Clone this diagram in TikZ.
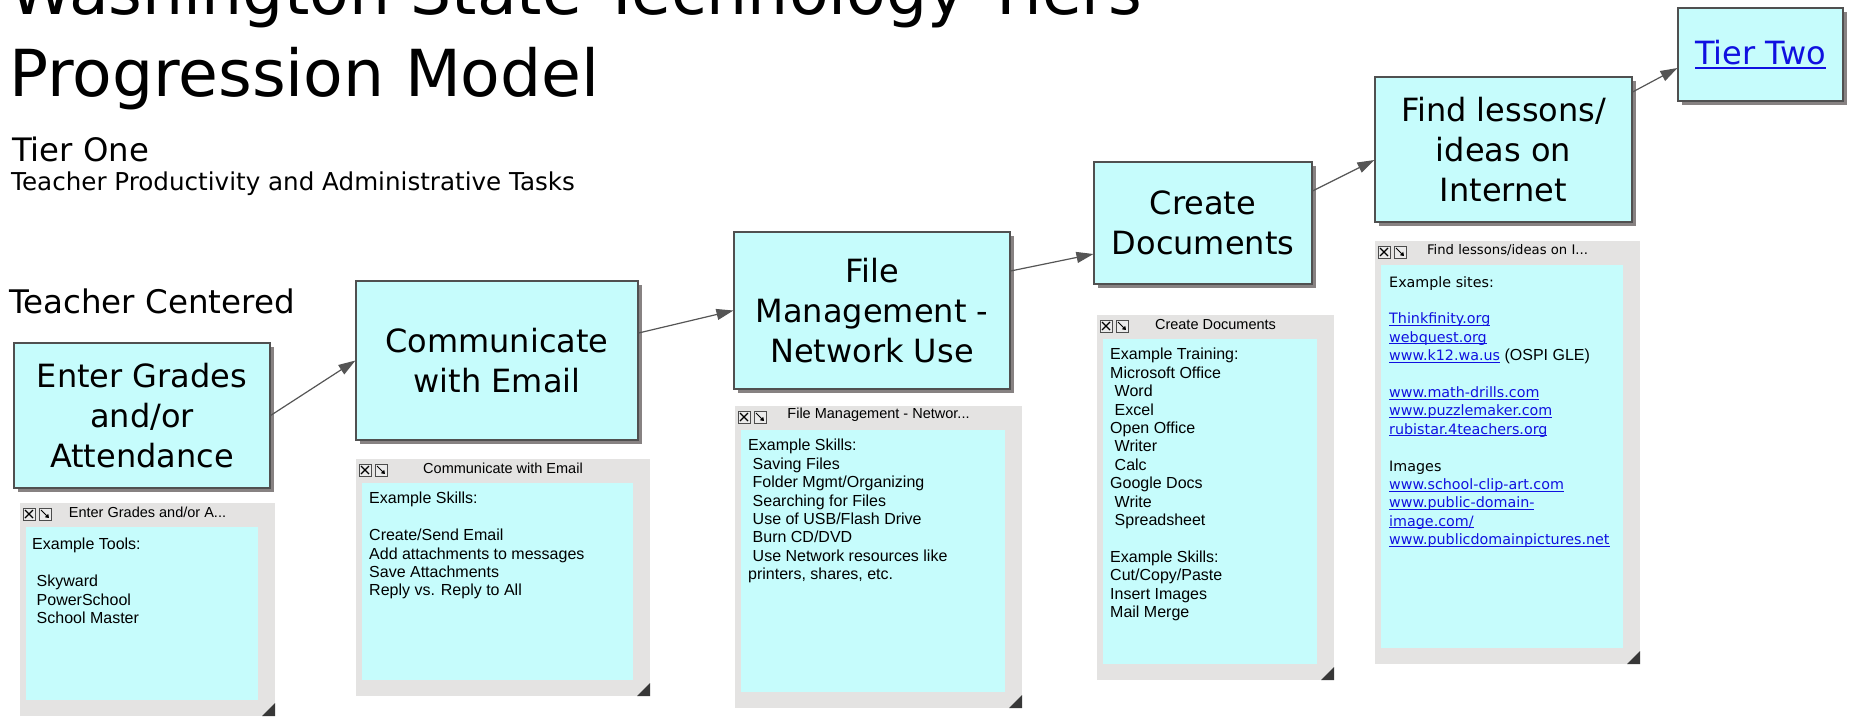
\documentclass[tikz,border=0pt]{standalone}
\usepackage{fontspec}
\usetikzlibrary{arrows.meta,shadows,calc}
\newfontfamily\dvs{DejaVu Sans}
\newfontfamily\lib{Liberation Sans}
\definecolor{boxcyan}{RGB}{198,252,252}
\definecolor{boxline}{RGB}{80,80,80}
\definecolor{shadowgray}{RGB}{135,130,130}
\definecolor{popgray}{RGB}{228,227,226}
\definecolor{linkblue}{RGB}{16,16,224}
\definecolor{arrowgray}{RGB}{85,85,85}
\definecolor{gripgray}{RGB}{55,55,55}
\newcommand\lnk[1]{{\color{linkblue}\setbox0\hbox{#1}\rlap{\rule[-2.2pt]{\wd0}{1pt}}\box0}}
\newcommand\biglnk[1]{{\color{linkblue}\setbox0\hbox{#1}\rlap{\rule[-4.5pt]{\wd0}{2pt}}\box0}}
\newcommand\ind{\hspace*{4.5pt}}
\newcommand\mypopup[6]{%
  \fill[popgray] (#2,#3) rectangle (#4,#5);
  \fill[boxcyan] ({#2+6},{#3+24}) rectangle ({#4-17},{#5-16});
  \fill[gripgray] (#4,{#5-13}) -- (#4,#5) -- ({#4-13},#5) -- cycle;
  \node[iconbox] (#1x) at ({#2+9},{#3+11}) {};
  \draw[iconmark] ([shift={(-4,-4)}]#1x.center) -- ([shift={(4,4)}]#1x.center);
  \draw[iconmark] ([shift={(-4,4)}]#1x.center) -- ([shift={(4,-4)}]#1x.center);
  \node[iconbox] (#1r) at ({#2+25},{#3+11}) {};
  \draw[iconmark,line width=0.9pt,-{Triangle[length=3.5pt,width=4.5pt]}] ([shift={(-4,-4)}]#1r.center) -- ([shift={(4,4)}]#1r.center);
  \node[hdr] (#1h) at ({(#2+#4)/2},{#3+9}) {#6};
}
\begin{document}
\begin{tikzpicture}[x=1pt,y=-1pt,
  box/.style={draw=boxline, line width=1.1pt, fill=boxcyan, align=center, inner sep=0pt,
    font=\dvs\fontsize{32}{40}\selectfont,
    drop shadow={shadow xshift=4pt, shadow yshift=-4pt, fill=shadowgray, opacity=1}},
  conn/.style={draw=arrowgray, line width=1.2pt, -{Triangle[length=17pt,width=11pt]}},
  iconbox/.style={draw=black!70, fill=black!8, line width=0.6pt, minimum size=12pt, inner sep=0pt},
  iconmark/.style={draw=black, line width=1.1pt},
  hdr/.style={inner sep=0pt, font=\lib\fontsize{14.5}{16}\selectfont},
  body/.style={anchor=north west, inner sep=0pt, align=left, font=\lib\fontsize{16}{18.4}\selectfont},
  webbody/.style={anchor=north west, inner sep=0pt, align=left, font=\dvs\fontsize{14.3}{18.4}\selectfont},
  plain/.style={anchor=base west, inner sep=0pt}]
\useasboundingbox (0,0) rectangle (1850,716);

% titles
\node[plain, font=\dvs\fontsize{64.8}{76}\selectfont] (t1) at (9,14) {Washington State Technology Tiers};
\node[plain, font=\dvs\fontsize{64.8}{76}\selectfont] (t2) at (9,96) {Progression Model};
\node[plain, font=\dvs\fontsize{32.3}{38}\selectfont] (t3) at (12,161) {Tier One};
\node[plain, font=\dvs\fontsize{24.6}{28}\selectfont] (t4) at (11,190) {Teacher Productivity and Administrative Tasks};
\node[plain, font=\dvs\fontsize{32.5}{38}\selectfont] (t5) at (9,313) {Teacher Centered};

% main boxes
\node[box, minimum width=256pt, minimum height=145pt] (b1) at (142,415.5) {Enter Grades\\and/or\\Attendance};
\node[box, minimum width=282pt, minimum height=159pt] (b2) at (497,360.5) {Communicate\\with Email};
\node[box, minimum width=276pt, minimum height=157pt] (b3) at (872,310.5) {File\\Management -\\Network Use};
\node[box, minimum width=218pt, minimum height=122pt] (b4) at (1203,223) {Create\\Documents};
\node[box, minimum width=257pt, minimum height=145pt] (b5) at (1503.5,149.5) {Find lessons/\\ideas on\\Internet};
\node[box, minimum width=165pt, minimum height=93pt] (b6) at (1760.5,54.5) {\biglnk{Tier Two}};

% connectors
\draw[conn] (b1.east) -- (b2.west);
\draw[conn] ([yshift=27.5pt]b2.east) -- (b3.west);
\draw[conn] ([yshift=39.5pt]b3.east) -- ([yshift=-31pt]b4.west);
\draw[conn] ([yshift=32pt]b4.east) -- ([yshift=-10.5pt]b5.west);
\draw[conn] ([yshift=57.5pt]b5.east) -- ([yshift=-13.5pt]b6.west);

% popups
\mypopup{p1}{20}{503}{275}{716}{Enter Grades and/or A...}
\mypopup{p2}{356}{459}{650}{696}{Communicate with Email}
\mypopup{p3}{735}{406}{1022}{708}{File Management - Networ...}
\mypopup{p4}{1097}{315}{1334}{680}{Create Documents}
\mypopup{p5}{1375}{241}{1640}{664}{\dvs\fontsize{13.2}{16}\selectfont Find lessons/ideas on I...}

\node[body] (p1t) at (32,538) {Example Tools:\\[18.4pt]
\ind Skyward\\ \ind PowerSchool\\ \ind School Master};
\node[body] (p2t) at (369,492) {Example Skills:\\[18.4pt]
Create/Send Email\\Add attachments to messages\\Save Attachments\\Reply vs. Reply to All};
\node[body] (p3t) at (748,439) {Example Skills:\\ \ind Saving Files\\ \ind Folder Mgmt/Organizing\\
\ind Searching for Files\\ \ind Use of USB/Flash Drive\\ \ind Burn CD/DVD\\
\ind Use Network resources like\\printers, shares, etc.};
\node[body] (p4t) at (1110,348) {Example Training:\\Microsoft Office\\ \ind Word\\ \ind Excel\\
Open Office\\ \ind Writer\\ \ind Calc\\Google Docs\\ \ind Write\\ \ind Spreadsheet\\[18.4pt]
Example Skills:\\Cut/Copy/Paste\\Insert Images\\Mail Merge};
\node[webbody] (p5t) at (1389,276) {Example sites:\\[18.4pt]
\lnk{Thinkfinity.org}\\ \lnk{webquest.org}\\ \lnk{www.k12.wa.us} {\lib\fontsize{16}{18.4}\selectfont (OSPI GLE)}\\[18.4pt]
\lnk{www.math-drills.com}\\ \lnk{www.puzzlemaker.com}\\ \lnk{rubistar.4teachers.org}\\[18.4pt]
Images\\ \lnk{www.school-clip-art.com}\\ \lnk{www.public-domain-}\\ \lnk{image.com/}\\ \lnk{www.publicdomainpictures.net}};
\end{tikzpicture}
\end{document}
